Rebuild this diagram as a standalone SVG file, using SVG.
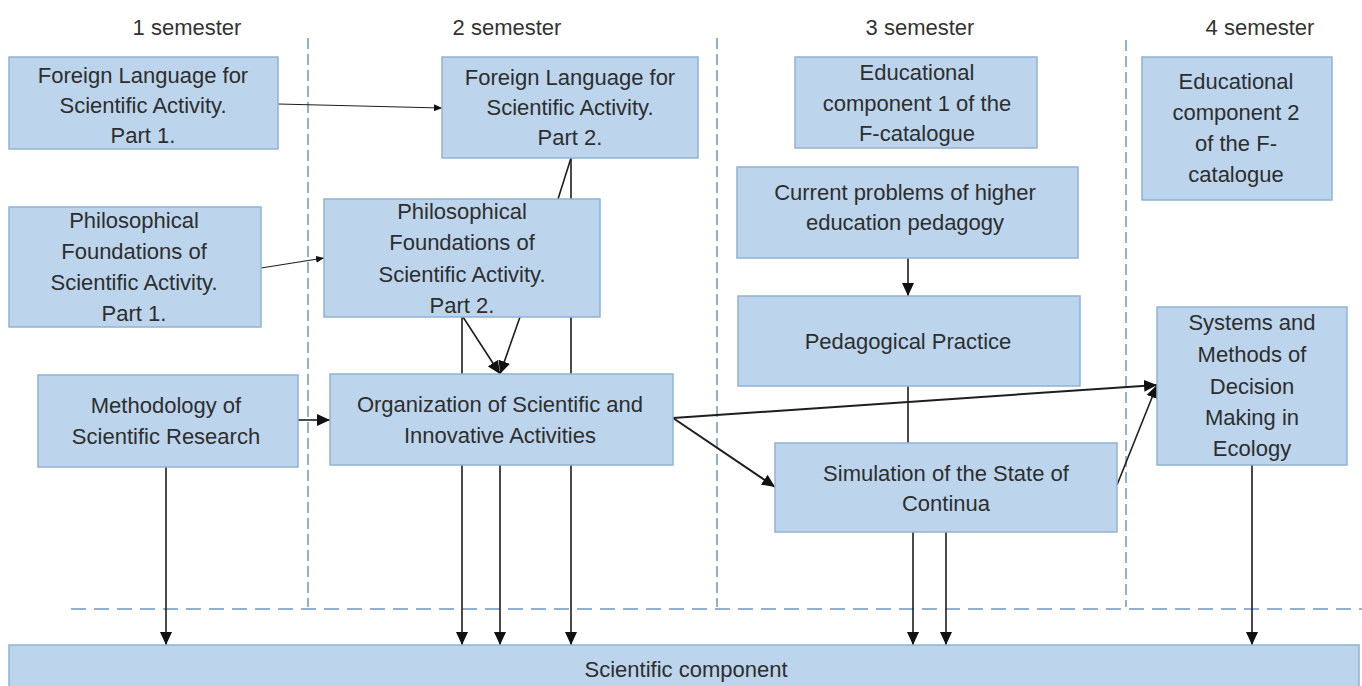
<svg xmlns="http://www.w3.org/2000/svg" width="1362" height="686" viewBox="0 0 1362 686">
<style>
.bg{fill:#ffffff}
.box{fill:#bcd5ec;stroke:#93b1d2;stroke-width:1.5}
.t{font-family:"Liberation Sans",Arial,sans-serif;font-size:22px;fill:#2e2e2e;text-anchor:middle}
.sem{font-family:"Liberation Sans",Arial,sans-serif;font-size:22px;fill:#333333;text-anchor:middle}
.vd{stroke:#7296c0;stroke-width:1.5;stroke-dasharray:11 5;fill:none}
.hd{stroke:#7296c0;stroke-width:1.5;stroke-dasharray:15 8;fill:none}
.c{stroke:#1e1e1e;stroke-width:1.6;fill:none;marker-end:url(#ah)}
.cs{stroke:#1e1e1e;stroke-width:1.2;fill:none;marker-end:url(#as)}
.cn{stroke:#1e1e1e;stroke-width:1.6;fill:none}
.ct{stroke:#1e1e1e;stroke-width:2;fill:none;marker-end:url(#ah)}
</style>
<defs>
<marker id="ah" markerUnits="userSpaceOnUse" markerWidth="13" markerHeight="12" refX="13" refY="6" orient="auto">
<path d="M0,0 L13,6 L0,12 z" fill="#111111"/>
</marker>
<marker id="as" markerUnits="userSpaceOnUse" markerWidth="8" markerHeight="7" refX="8" refY="3.5" orient="auto">
<path d="M0,0 L8,3.5 L0,7 z" fill="#111111"/>
</marker>
</defs>
<rect class="bg" x="0" y="0" width="1362" height="686"/>

<g id="semesters">
<text class="sem" x="187" y="35">1 semester</text>
<text class="sem" x="507" y="35">2 semester</text>
<text class="sem" x="920" y="35">3 semester</text>
<text class="sem" x="1260" y="35">4 semester</text>
</g>

<g id="guides">
<line class="vd" x1="308" y1="38" x2="308" y2="607"/>
<line class="vd" x1="717" y1="38" x2="717" y2="607"/>
<line class="vd" x1="1126" y1="40" x2="1126" y2="607"/>
<line class="hd" x1="71" y1="609" x2="1362" y2="609"/>
</g>

<g id="connectors">
<line class="cs" x1="278" y1="104" x2="442" y2="108"/>
<line class="cs" x1="261" y1="268" x2="324" y2="258"/>
<line class="c" x1="298" y1="420" x2="330" y2="420"/>
<line class="c" x1="166" y1="467" x2="166" y2="645"/>
<line class="c" x1="463" y1="317" x2="500" y2="374"/>
<line class="c" x1="520" y1="317" x2="500" y2="374"/>
<line class="c" x1="462" y1="317" x2="462" y2="645"/>
<line class="c" x1="500" y1="465" x2="500" y2="645"/>
<line class="c" x1="571" y1="158" x2="571" y2="645"/>
<line class="cn" x1="571" y1="158" x2="558" y2="199"/>
<line class="ct" x1="673" y1="418" x2="1157" y2="385"/>
<line class="ct" x1="673" y1="418" x2="775" y2="487"/>
<line class="c" x1="1117" y1="485" x2="1157" y2="385"/>
<line class="c" x1="908" y1="258" x2="908" y2="296"/>
<line class="cn" x1="908" y1="386" x2="908" y2="443"/>
<line class="c" x1="913" y1="532" x2="913" y2="645"/>
<line class="c" x1="946" y1="532" x2="946" y2="645"/>
<line class="c" x1="1252" y1="465" x2="1252" y2="645"/>
</g>

<g id="fl1">
<rect class="box" x="9" y="57" width="269" height="92"/>
<text class="t" x="143" y="83">Foreign Language for</text>
<text class="t" x="143" y="113">Scientific Activity.</text>
<text class="t" x="143" y="143">Part 1.</text>
</g>

<g id="fl2">
<rect class="box" x="442" y="57" width="256" height="101"/>
<text class="t" x="570" y="85">Foreign Language for</text>
<text class="t" x="570" y="115">Scientific Activity.</text>
<text class="t" x="570" y="145">Part 2.</text>
</g>

<g id="pf1">
<rect class="box" x="9" y="207" width="252" height="120"/>
<text class="t" x="134" y="228">Philosophical</text>
<text class="t" x="134" y="259">Foundations of</text>
<text class="t" x="134" y="290">Scientific Activity.</text>
<text class="t" x="134" y="321">Part 1.</text>
</g>

<g id="pf2">
<rect class="box" x="324" y="199" width="276" height="118"/>
<text class="t" x="462" y="219">Philosophical</text>
<text class="t" x="462" y="250">Foundations of</text>
<text class="t" x="462" y="282">Scientific Activity.</text>
<text class="t" x="462" y="313">Part 2.</text>
</g>

<g id="msr">
<rect class="box" x="38" y="375" width="260" height="92"/>
<text class="t" x="166" y="413">Methodology of</text>
<text class="t" x="166" y="444">Scientific Research</text>
</g>

<g id="osia">
<rect class="box" x="330" y="374" width="343" height="91"/>
<text class="t" x="500" y="412">Organization of Scientific and</text>
<text class="t" x="500" y="443">Innovative Activities</text>
</g>

<g id="ec1">
<rect class="box" x="795" y="57" width="242" height="91"/>
<text class="t" x="917" y="80">Educational</text>
<text class="t" x="917" y="111">component 1 of the</text>
<text class="t" x="917" y="141">F-catalogue</text>
</g>

<g id="cp">
<rect class="box" x="737" y="167" width="341" height="91"/>
<text class="t" x="905" y="200">Current problems of higher</text>
<text class="t" x="905" y="230">education pedagogy</text>
</g>

<g id="pp">
<rect class="box" x="738" y="296" width="342" height="90"/>
<text class="t" x="908" y="349">Pedagogical Practice</text>
</g>

<g id="ssc">
<rect class="box" x="775" y="443" width="342" height="89"/>
<text class="t" x="946" y="481">Simulation of the State of</text>
<text class="t" x="946" y="511">Continua</text>
</g>

<g id="ec2">
<rect class="box" x="1142" y="57" width="190" height="143"/>
<text class="t" x="1236" y="89">Educational</text>
<text class="t" x="1236" y="120">component 2</text>
<text class="t" x="1236" y="151">of the F-</text>
<text class="t" x="1236" y="182">catalogue</text>
</g>

<g id="smd">
<rect class="box" x="1157" y="307" width="190" height="158"/>
<text class="t" x="1252" y="330">Systems and</text>
<text class="t" x="1252" y="362">Methods of</text>
<text class="t" x="1252" y="394">Decision</text>
<text class="t" x="1252" y="425">Making in</text>
<text class="t" x="1252" y="456">Ecology</text>
</g>

<g id="sc">
<rect class="box" x="9" y="645" width="1350" height="50"/>
<text class="t" x="686" y="677">Scientific component</text>
</g>
</svg>
